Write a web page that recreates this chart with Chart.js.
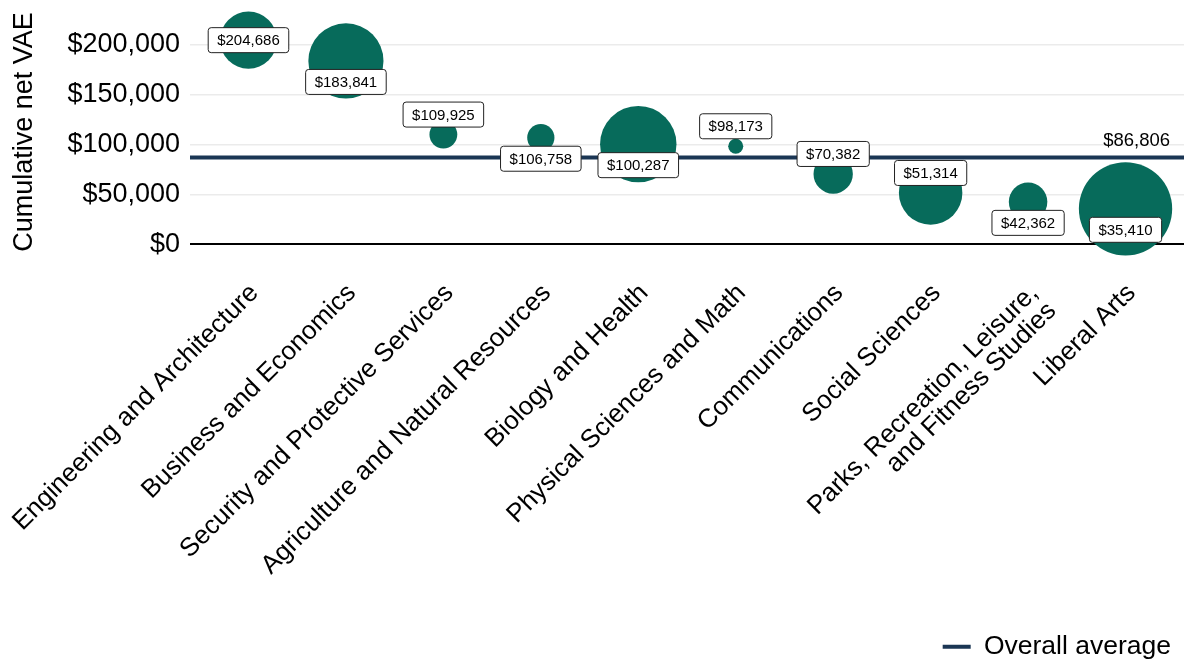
<!DOCTYPE html>
<html>
<head>
<meta charset="utf-8">
<title>Cumulative net VAE by field</title>
<script src="https://cdn.jsdelivr.net/npm/chart.js@4.4.1/dist/chart.umd.min.js"></script>
<style>
  html, body { margin: 0; padding: 0; background: #fff; }
  #wrap { width: 1184px; height: 660px; position: relative; }
</style>
</head>
<body>
<div id="wrap"><canvas id="chart"></canvas></div>
<script>
const fields = [
  'Engineering and Architecture',
  'Business and Economics',
  'Security and Protective Services',
  'Agriculture and Natural Resources',
  'Biology and Health',
  'Physical Sciences and Math',
  'Communications',
  'Social Sciences',
  ['Parks, Recreation, Leisure,', 'and Fitness Studies'],
  'Liberal Arts'
];
const netVae = [204686, 183841, 109925, 106758, 100287, 98173, 70382, 51314, 42362, 35410];
// share of graduates in each field, sets bubble area
const gradShare = [10.1, 17.5, 2.4, 2.3, 18.1, 0.7, 4.8, 12.5, 4.6, 27.0];
const overallAvg = 86806;
const yTicks = [0, 50000, 100000, 150000, 200000];

// label placement (pixels from bubble centre)
const labelNudge = [0, 21, -20, 21, 21, -20, -20, -20, 21, 21];

const GREEN = '#076b5b';
const NAVY = '#1b3654';
const FONT = "'Liberation Sans', Arial, sans-serif";
const PLOT_BOTTOM = 264;

const money = v => '$' + Math.round(v).toLocaleString('en-US');

const valueLabels = {
  id: 'valueLabels',
  afterLayout(chart) {
    // sit the legend a little lower and in from the right edge
    const lg = chart.legend;
    lg.top += 10; lg.bottom += 10;
    lg.right -= 5;
  },
  afterDatasetsDraw(chart) {
    const ctx = chart.ctx;
    const meta = chart.getDatasetMeta(0);
    ctx.save();
    ctx.font = '15px ' + FONT;
    ctx.textAlign = 'center';
    ctx.textBaseline = 'middle';
    meta.data.forEach((pt, i) => {
      const txt = money(netVae[i]);
      const w = ctx.measureText(txt).width + 18;
      const h = 25;
      const cx = pt.x;
      const cy = pt.y + labelNudge[i];
      ctx.beginPath();
      ctx.roundRect(cx - w / 2, cy - h / 2, w, h, 3);
      ctx.fillStyle = '#fff';
      ctx.fill();
      ctx.lineWidth = 1;
      ctx.strokeStyle = '#222';
      ctx.stroke();
      ctx.fillStyle = '#000';
      ctx.fillText(txt, cx, cy + 1);
    });

    // average line label
    const yPix = chart.scales.y.getPixelForValue(overallAvg);
    ctx.font = '18.5px ' + FONT;
    ctx.textAlign = 'right';
    ctx.textBaseline = 'alphabetic';
    ctx.fillText(money(overallAvg), chart.chartArea.right - 14, yPix - 12);
    ctx.restore();
  }
};

new Chart(document.getElementById('chart'), {
  type: 'bubble',
  data: {
    datasets: [
      {
        label: 'Field',
        data: netVae.map((v, i) => ({ x: i, y: v, r: Math.sqrt(gradShare[i]) * 8.98 })),
        backgroundColor: GREEN,
        borderWidth: 0,
        hoverRadius: 0,
        order: 1,
        clip: false
      },
      {
        type: 'line',
        label: 'Overall average',
        data: [{ x: -0.6, y: overallAvg }, { x: 9.6, y: overallAvg }],
        borderColor: NAVY,
        backgroundColor: NAVY,
        borderWidth: 4,
        pointRadius: 0,
        pointStyle: 'line',
        order: 2
      }
    ]
  },
  options: {
    responsive: true,
    maintainAspectRatio: false,
    animation: false,
    layout: { padding: 0, autoPadding: false },
    scales: {
      x: {
        type: 'linear',
        min: -0.6,
        max: 9.6,
        afterBuildTicks: s => { s.ticks = fields.map((_, i) => ({ value: i })); },
        afterFit: s => {
          const lh = s.chart.legend ? s.chart.legend.height : 40;
          s.height = s.chart.height - PLOT_BOTTOM - lh;
          // rotated labels may run past the plot edge
          s.paddingLeft = 0;
          s.paddingRight = 0;
        },
        grid: { display: false },
        border: { display: false },
        ticks: {
          autoSkip: false,
          minRotation: 45,
          maxRotation: 45,
          padding: 8,
          labelOffset: 6,
          color: '#000',
          font: { family: FONT, size: 26, lineHeight: 0.98 },
          callback: v => fields[v]
        }
      },
      y: {
        min: -20000,
        max: 245000,
        afterBuildTicks: s => { s.ticks = yTicks.map(v => ({ value: v })); },
        afterFit: s => {
          s.width = 190;
          s.paddingTop = 0;
          s.paddingBottom = 0;
        },
        border: { display: false },
        grid: {
          drawTicks: false,
          color: c => (c.tick && c.tick.value === 0 ? '#000' : '#ebebeb'),
          lineWidth: c => (c.tick && c.tick.value === 0 ? 2 : 1.5)
        },
        ticks: {
          padding: 10,
          color: '#000',
          font: { family: FONT, size: 27 },
          callback: v => money(v)
        },
        title: {
          display: true,
          text: 'Cumulative net VAE',
          color: '#000',
          font: { family: FONT, size: 27 },
          padding: { top: 8, bottom: 0 }
        }
      }
    },
    plugins: {
      legend: {
        position: 'bottom',
        align: 'end',
        labels: {
          filter: item => item.text === 'Overall average',
          usePointStyle: true,
          pointStyle: 'line',
          pointStyleWidth: 28,
          padding: 8,
          color: '#000',
          font: { family: FONT, size: 26.5 }
        }
      },
      tooltip: { enabled: false }
    }
  },
  plugins: [valueLabels]
});
</script>
</body>
</html>
